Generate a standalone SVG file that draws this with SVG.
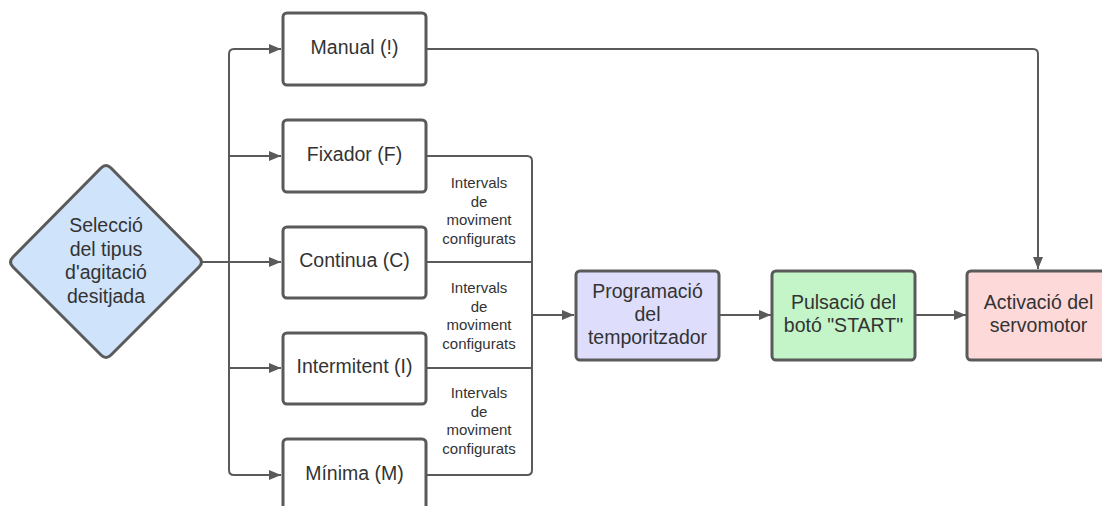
<svg xmlns="http://www.w3.org/2000/svg" width="1102" height="506" viewBox="0 0 1102 506">
  <style>
    .box { stroke: #5a5a5a; stroke-width: 3; }
    .plain { fill: #ffffff; }
    .wire { fill: none; stroke: #5a5a5a; stroke-width: 2; }
    .lbl { font-family: "Liberation Sans", Arial, sans-serif; font-size: 19.5px; fill: #333333; text-anchor: middle; }
    .note { font-family: "Liberation Sans", Arial, sans-serif; font-size: 15px; fill: #333333; text-anchor: middle; }
  </style>
  <defs>
    <marker id="arrow" markerWidth="12" markerHeight="10" refX="12" refY="5" orient="auto" markerUnits="userSpaceOnUse">
      <path d="M0,0 L12,5 L0,10 Z" fill="#5a5a5a"/>
    </marker>
  </defs>
  <rect width="1102" height="506" fill="#ffffff"/>

  <g id="connectors">
    <!-- decision to the five modes -->
    <path class="wire" d="M202,262 H281" marker-end="url(#arrow)"/>
    <path class="wire" d="M229,262 V54 Q229,49 234,49 H281" marker-end="url(#arrow)"/>
    <path class="wire" d="M229,262 V470 Q229,475 234,475 H281" marker-end="url(#arrow)"/>
    <path class="wire" d="M229,156 H281" marker-end="url(#arrow)"/>
    <path class="wire" d="M229,368 H281" marker-end="url(#arrow)"/>
    <!-- manual bypass to the servomotor -->
    <path class="wire" d="M426,49 H1033 Q1038,49 1038,54 V269" marker-end="url(#arrow)"/>
    <!-- configured modes merge into the timer -->
    <path class="wire" d="M426,156 H527 Q532,156 532,161 V470 Q532,475 527,475 H426"/>
    <path class="wire" d="M426,262 H532"/>
    <path class="wire" d="M426,368 H532"/>
    <path class="wire" d="M532,315 H574" marker-end="url(#arrow)"/>
    <path class="wire" d="M719,315 H771" marker-end="url(#arrow)"/>
    <path class="wire" d="M915,315 H966" marker-end="url(#arrow)"/>
    <text class="note"><tspan x="479" y="188">Intervals</tspan><tspan x="479" y="206.5">de</tspan><tspan x="479" y="225">moviment</tspan><tspan x="479" y="243.5">configurats</tspan></text>
    <text class="note"><tspan x="479" y="293">Intervals</tspan><tspan x="479" y="311.5">de</tspan><tspan x="479" y="330">moviment</tspan><tspan x="479" y="348.5">configurats</tspan></text>
    <text class="note"><tspan x="479" y="398">Intervals</tspan><tspan x="479" y="416.5">de</tspan><tspan x="479" y="435">moviment</tspan><tspan x="479" y="453.5">configurats</tspan></text>
  </g>

  <g id="seleccio">
    <path class="box" d="M101,168 Q106,163 111,168 L199,257 Q204,262 199,267 L111,355 Q106,360 101,355 L13,267 Q8,262 13,257 Z" fill="#cfe3fb"/>
    <text class="lbl"><tspan x="106" y="232">Selecció</tspan><tspan x="106" y="255.5">del tipus</tspan><tspan x="106" y="279">d'agitació</tspan><tspan x="106" y="302.5">desitjada</tspan></text>
  </g>

  <g id="manual">
    <rect class="box plain" x="283" y="13" width="143" height="72" rx="4"/>
    <text class="lbl" x="354.5" y="53.5">Manual (!)</text>
  </g>
  <g id="fixador">
    <rect class="box plain" x="283" y="120" width="143" height="72" rx="4"/>
    <text class="lbl" x="354.5" y="160.5">Fixador (F)</text>
  </g>
  <g id="continua">
    <rect class="box plain" x="283" y="227" width="143" height="71" rx="4"/>
    <text class="lbl" x="354.5" y="267">Continua (C)</text>
  </g>
  <g id="intermitent">
    <rect class="box plain" x="283" y="333" width="143" height="71" rx="4"/>
    <text class="lbl" x="354.5" y="373">Intermitent (I)</text>
  </g>
  <g id="minima">
    <rect class="box plain" x="283" y="439" width="143" height="72" rx="4"/>
    <text class="lbl" x="354.5" y="480">Mínima (M)</text>
  </g>

  <g id="programacio">
    <rect class="box" x="576" y="271" width="143" height="89" rx="4" fill="#dedefc"/>
    <text class="lbl"><tspan x="647.5" y="298">Programació</tspan><tspan x="647.5" y="321">del</tspan><tspan x="647.5" y="344">temporitzador</tspan></text>
  </g>
  <g id="pulsacio">
    <rect class="box" x="772" y="271" width="143" height="89" rx="4" fill="#c3f5c8"/>
    <text class="lbl"><tspan x="843.5" y="309">Pulsació del</tspan><tspan x="843.5" y="332">botó "START"</tspan></text>
  </g>
  <g id="activacio">
    <rect class="box" x="967" y="271" width="143" height="89" rx="4" fill="#fdd9d9"/>
    <text class="lbl"><tspan x="1038.5" y="309">Activació del</tspan><tspan x="1038.5" y="332">servomotor</tspan></text>
  </g>
</svg>
